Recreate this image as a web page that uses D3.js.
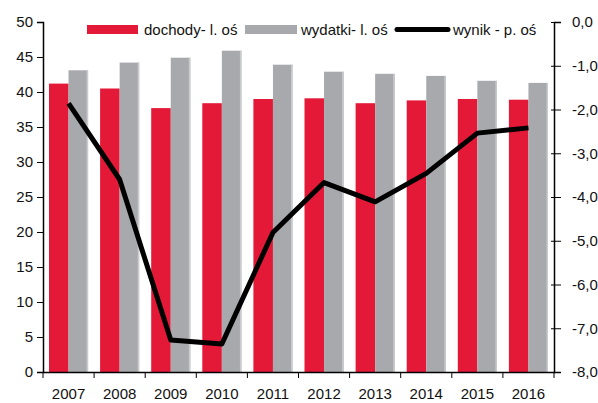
<!DOCTYPE html>
<html><head><meta charset="utf-8">
<script src="https://cdn.jsdelivr.net/npm/d3@7"></script>
<style>body{margin:0;background:#fff}svg{display:block}text{font-family:"Liberation Sans",Arial,sans-serif;fill:#111}</style>
</head><body><svg id="c" width="598" height="403"></svg>
<script>
const years = ["2007","2008","2009","2010","2011","2012","2013","2014","2015","2016"];
const dochody = [41.2,40.5,37.7,38.4,39.0,39.1,38.4,38.8,39.0,38.9];
const wydatki = [43.1,44.2,44.9,45.9,43.9,42.9,42.6,42.3,41.6,41.3];
const wynik = [-1.86,-3.6,-7.27,-7.36,-4.81,-3.67,-4.11,-3.46,-2.54,-2.42];
const leftTicks = [0,5,10,15,20,25,30,35,40,45,50];
const rightTicks = [0,-1,-2,-3,-4,-5,-6,-7,-8];
const legendLabels = ["dochody- l. oś","wydatki- l. oś","wynik - p. oś"];

const svg = d3.select("#c");
const L = 43, R = 554, T = 22, B = 372;
const x = d3.scaleBand().domain(years).range([L, R]).paddingInner(0).paddingOuter(0);
const yL = d3.scaleLinear().domain([0,50]).range([B,T]);
const yR = d3.scaleLinear().domain([-8,0]).range([B,T]);
const red = "#E31937", gray = "#A8A9AD", grayEdge = "#CACBCE";
const pad = 6, bw = (x.bandwidth() - 2*pad)/2;

const g = svg.append("g");
g.selectAll("rect.d").data(years).join("rect")
  .attr("x", d => x(d)+pad).attr("width", bw)
  .attr("y", (d,i) => yL(dochody[i])).attr("height", (d,i) => B - yL(dochody[i]))
  .attr("fill", red);
g.selectAll("rect.w").data(years).join("rect")
  .attr("x", d => x(d)+pad+bw).attr("width", bw)
  .attr("y", (d,i) => yL(wydatki[i])).attr("height", (d,i) => B - yL(wydatki[i]))
  .attr("fill", gray);
g.selectAll("rect.we").data(years).join("rect")
  .attr("x", d => x(d)+pad+2*bw-1.5).attr("width", 1.5)
  .attr("y", (d,i) => yL(wydatki[i])).attr("height", (d,i) => B - yL(wydatki[i]))
  .attr("fill", grayEdge);

// line
const line = d3.line().x((d,i) => x(years[i]) + x.bandwidth()/2).y(d => yR(d));
svg.append("path").datum(wynik).attr("d", line).attr("fill","none")
  .attr("stroke","#000").attr("stroke-width",5).attr("stroke-linejoin","round");

// axes
const fs = "15px";
const ax = svg.append("g").attr("transform",`translate(${L},0)`)
  .call(d3.axisLeft(yL).tickValues(leftTicks).tickSize(6).tickPadding(4));
ax.selectAll("text").style("font-size",fs);
const ar = svg.append("g").attr("transform",`translate(${R},0)`)
  .call(d3.axisRight(yR).tickValues(rightTicks).tickSize(7).tickPadding(11)
    .tickFormat(d => d3.format(".1f")(d).replace(".",",").replace("−","-")));
ar.selectAll("line").attr("x1",-3);
ar.selectAll("text").style("font-size",fs);
const xb = svg.append("g").attr("transform",`translate(0,${B})`)
  .call(d3.axisBottom(x).tickSize(0).tickPadding(16));
xb.selectAll("text").style("font-size",fs);
// boundary ticks
xb.selectAll("line.bt").data(years.concat(["end"])).join("line")
  .attr("x1",(d,i)=> i<years.length ? x(d) : R).attr("x2",(d,i)=> i<years.length ? x(d) : R)
  .attr("y1",0).attr("y2",6).attr("stroke","#000");
[ax,ar,xb].forEach(a => { a.selectAll("path.domain").attr("stroke","#000").attr("stroke-width",1.5); a.selectAll("line").attr("stroke","#000"); });

// legend
const lg = svg.append("g");
const lfs = "15px";
lg.append("rect").attr("x",87).attr("y",25).attr("width",51).attr("height",9).attr("fill",red);
lg.append("text").attr("x",144).attr("y",35).style("font-size",lfs).text(legendLabels[0]);
lg.append("rect").attr("x",245).attr("y",25).attr("width",52).attr("height",9).attr("fill",gray);
lg.append("text").attr("x",301).attr("y",35).style("font-size",lfs).text(legendLabels[1]);
lg.append("line").attr("x1",397).attr("x2",448).attr("y1",29.5).attr("y2",29.5)
  .attr("stroke","#000").attr("stroke-width",5).attr("stroke-linecap","round");
lg.append("text").attr("x",453).attr("y",35).style("font-size",lfs).text(legendLabels[2]);
</script></body></html>
